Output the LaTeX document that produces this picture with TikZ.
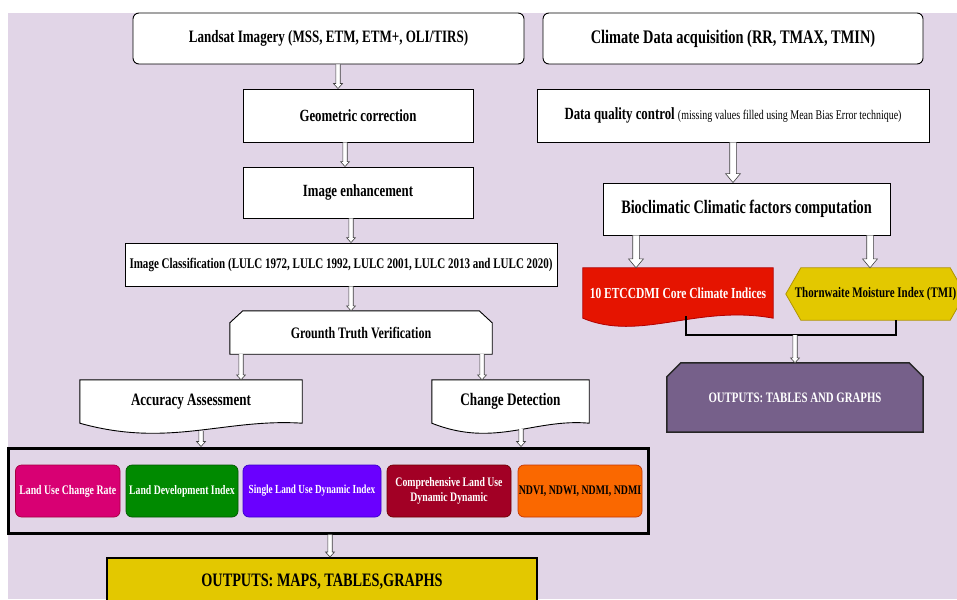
\documentclass[tikz,border=0pt]{standalone}
\usepackage{fontspec}
\setmainfont{Liberation Serif}[FakeStretch=0.75]
\usetikzlibrary{calc}
\pgfdeclarelayer{back}
\pgfdeclarelayer{shp}
\pgfsetlayers{back,shp,main}
\definecolor{lav}{HTML}{E1D5E7}
\definecolor{cmag}{HTML}{D80073}\definecolor{cmagd}{HTML}{A50040}
\definecolor{cgrn}{HTML}{008A00}\definecolor{cgrnd}{HTML}{005700}
\definecolor{cind}{HTML}{6A00FF}\definecolor{cindd}{HTML}{3700CC}
\definecolor{ccri}{HTML}{A20025}\definecolor{ccrid}{HTML}{6F0000}
\definecolor{cora}{HTML}{FA6800}\definecolor{corad}{HTML}{C73500}
\definecolor{cred}{HTML}{E51400}\definecolor{credd}{HTML}{B20000}
\definecolor{cyel}{HTML}{E3C800}\definecolor{cyeld}{HTML}{B09500}
\definecolor{cmau}{HTML}{76608A}\definecolor{cmaud}{HTML}{432D57}
\newcommand\setfs[1]{\fontsize{#1}{#1}\selectfont}
\begin{document}
\begin{tikzpicture}[x=1pt,y=-1pt,
  every node/.style={inner sep=0pt, align=center},
  fsz/.style={font=\bfseries\fontsize{#1}{#1}\selectfont},
  wline/.style={draw=black, line width=0.9pt},
  wbox/.style={wline, fill=white},
  rbox/.style={wbox, rounded corners=6pt},
  ghost/.style={draw=none, fill=none},
  cbox/.style={rounded corners=6pt, line width=0.7pt, text=white},
  hbase/.style={draw=black!75, fill=white, line width=0.6pt,
    to path={let \p1=(\tikztostart), \p2=(\tikztotarget) in
      (\x1-\asw,\y1) -- (\x1-\asw,\y2+\ahh) -- (\x1-\ahw,\y2+\ahh) -- (\x1,\y2)
      -- (\x1+\ahw,\y2+\ahh) -- (\x1+\asw,\y2+\ahh) -- (\x1+\asw,\y1)}},
  harrowS/.style={/utils/exec={\def\asw{2.2pt}\def\ahw{4.5pt}\def\ahh{5pt}}, hbase},
  harrowL/.style={/utils/exec={\def\asw{3.3pt}\def\ahw{7.5pt}\def\ahh{9pt}}, hbase},
]
\useasboundingbox (0,0) rectangle (957,599);
\begin{pgfonlayer}{back}
  \fill[lav] (8,13) rectangle (957,599);
\end{pgfonlayer}

% left column
\node[rbox, minimum width=391, minimum height=51, fsz=17.4] (ls) at (328.5,38.5) {Landsat Imagery (MSS, ETM, ETM+, OLI/TIRS)};
\node[wbox, minimum width=230, minimum height=53, fsz=17.1] (geo) at (358,115.5) {Geometric correction};
\node[wbox, minimum width=230, minimum height=51, fsz=17.1] (enh) at (358,192.5) {Image enhancement};
\node[wbox, minimum width=432, minimum height=43, fsz=14.7] (cls) at (341,264.5) {Image Classification (LULC 1972, LULC 1992, LULC 2001, LULC 2013 and LULC 2020)};
\node[ghost, minimum width=262, minimum height=43, fsz=16] (gt) at (361,332.5) {Grounth Truth Verification};
\node[ghost, minimum width=222, minimum height=43, fsz=17.4] (acc) at (191,401.5) {Accuracy Assessment};
\node[ghost, minimum width=157, minimum height=43, fsz=17.6] (chg) at (510.5,401.5) {Change Detection};
\node[draw=black, line width=3pt, minimum width=640, minimum height=85] (frm) at (328,490.5) {};
\node[cbox, fill=cmag, draw=cmagd, minimum width=104.5, minimum height=52, fsz=13.1] (c1) at (67.75,491) {Land Use Change Rate};
\node[cbox, fill=cgrn, draw=cgrnd, minimum width=112, minimum height=52, fsz=13] (c2) at (182,491) {Land Development Index};
\node[cbox, fill=cind, draw=cindd, minimum width=138, minimum height=52, fsz=12.3] (c3) at (312,491) {Single Land Use Dynamic Index};
\node[cbox, fill=ccri, draw=ccrid, minimum width=124, minimum height=52, font=\bfseries\fontsize{13}{15.5}\selectfont] (c4) at (449,491) {Comprehensive Land Use\\Dynamic Dynamic};
\node[cbox, fill=cora, draw=corad, minimum width=124, minimum height=52, fsz=13.1, text=black] (c5) at (580,491) {NDVI, NDWI, NDMI, NDMI};
\node[draw=black, line width=2pt, fill=cyel, minimum width=430, minimum height=48, fsz=19] (om) at (322,582) {OUTPUTS: MAPS, TABLES,GRAPHS};

% right column
\node[rbox, minimum width=380, minimum height=51, fsz=19.2] (cl) at (733,38.5) {Climate Data acquisition (RR, TMAX, TMIN)};
\node[wbox, minimum width=392, minimum height=53, font=\bfseries\setfs{17.1}] (dq) at (733,115.5) {Data quality control {\mdseries\setfs{13.3}(missing values filled using Mean Bias Error technique)}};
\node[wbox, minimum width=287, minimum height=52, fsz=19] (bio) at (746.5,209) {Bioclimatic Climatic factors computation};
\node[ghost, minimum width=190, minimum height=50, fsz=15.3, text=white] (et) at (678,293) {10 ETCCDMI Core Climate Indices};
\node[ghost, minimum width=179, minimum height=52, fsz=14.6] (tmi) at (875.5,294) {Thornwaite Moisture Index (TMI)};
\node[ghost, minimum width=256, minimum height=69, fsz=14.4, text=white] (ot) at (795,397.5) {OUTPUTS: TABLES AND GRAPHS};

\begin{pgfonlayer}{shp}
  \draw[wline, fill=white] (gt.south west) -- ($(gt.north west)+(0,12)$) -- ($(gt.north west)+(13,0)$)
     -- ($(gt.north east)+(-13,0)$) -- ($(gt.north east)+(0,12)$) -- (gt.south east) -- cycle;
  \draw[wline, fill=white] (acc.south west) -- (acc.north west) -- (acc.north east) -- (acc.south east)
     .. controls ($(acc.south east)!0.35!(acc.south west)+(0,-5)$) and ($(acc.south east)!0.6!(acc.south west)+(0,25)$) .. (acc.south west) -- cycle;
  \draw[wline, fill=white] (chg.south west) -- (chg.north west) -- (chg.north east) -- (chg.south east)
     .. controls ($(chg.south east)!0.35!(chg.south west)+(0,-5)$) and ($(chg.south east)!0.6!(chg.south west)+(0,25)$) .. (chg.south west) -- cycle;
  \draw[draw=credd, line width=0.8pt, fill=cred] (et.south west) -- (et.north west) -- (et.north east) -- (et.south east)
     .. controls ($(et.south east)!0.4!(et.south west)+(0,-14)$) and ($(et.south east)!0.7!(et.south west)+(0,24)$) .. (et.south west) -- cycle;
  \draw[draw=cyeld, line width=0.8pt, fill=cyel] (tmi.west) -- ($(tmi.north west)+(15,0)$) -- ($(tmi.north east)+(-15,0)$)
     -- (tmi.east) -- ($(tmi.south east)+(-15,0)$) -- ($(tmi.south west)+(15,0)$) -- cycle;
  \draw[draw=black!85, line width=1.5pt, fill=cmau] (ot.south west) -- ($(ot.north west)+(0,14)$) -- ($(ot.north west)+(14,0)$)
     -- ($(ot.north east)+(-14,0)$) -- ($(ot.north east)+(0,14)$) -- (ot.south east) -- cycle;
\end{pgfonlayer}

% connectors
\draw[harrowS] (ls.south -| 338,0) to (geo.north -| 338,0);
\draw[harrowS] (geo.south -| 345,0) to (enh.north -| 345,0);
\draw[harrowS] (enh.south -| 351,0) to (cls.north -| 351,0);
\draw[harrowS] (cls.south -| 351,0) to (gt.north -| 351,0);
\draw[harrowS] (gt.south -| 241,0) to (acc.north -| 241,0);
\draw[harrowS] (gt.south -| 482,0) to (chg.north -| 482,0);
\draw[harrowS] ($(acc.south -| 201,0)+(0,8)$) to (frm.north -| 201,0);
\draw[harrowS] ($(chg.south -| 521,0)+(0,6)$) to (frm.north -| 521,0);
\draw[harrowS] (frm.south -| 330,0) to (om.north -| 330,0);
\draw[harrowL] (dq.south -| 733,0) to (bio.north -| 733,0);
\draw[harrowL] (bio.south -| 636,0) to (et.north -| 636,0);
\draw[harrowL] (bio.south -| 870,0) to (tmi.north -| 870,0);
\draw[line width=2pt] ($(et.south -| 686,0)+(0,-2)$) -- ++(0,19) coordinate (jl) -| (tmi.south -| 896,0);
\draw[harrowS] (jl -| 795,0) to (ot.north -| 795,0);
\end{tikzpicture}
\end{document}
